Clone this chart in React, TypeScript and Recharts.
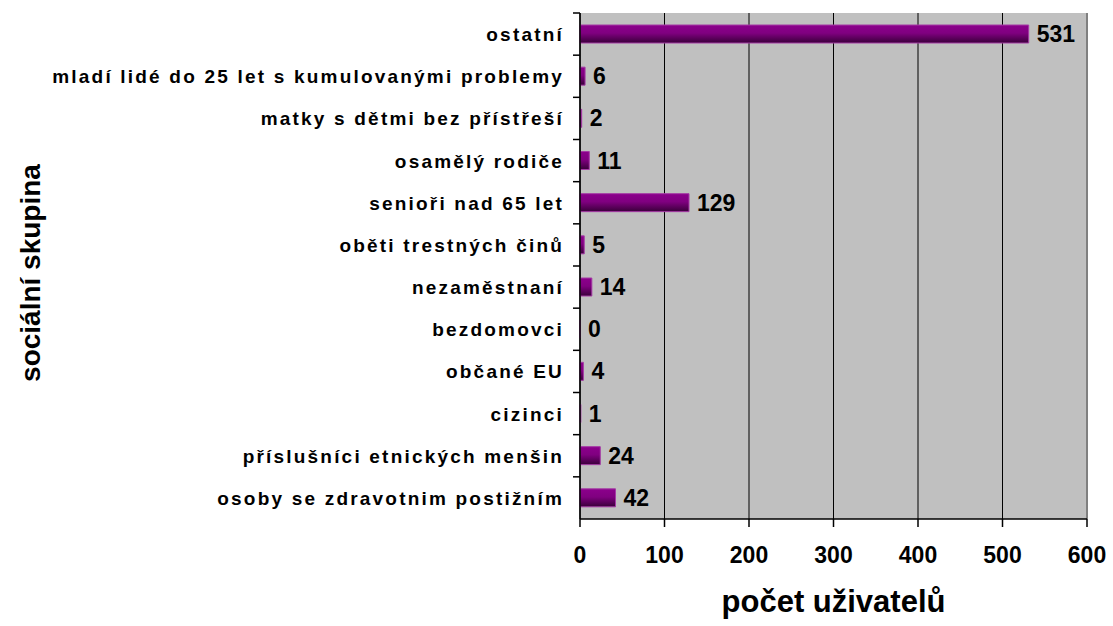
import React from "react";
import { BarChart, Bar, XAxis, YAxis, CartesianGrid, LabelList, ReferenceLine } from "recharts";

const categories = [
    "ostatní",
    "mladí lidé do 25 let s kumulovanými problemy",
    "matky s dětmi bez přístřeší",
    "osamělý rodiče",
    "senioři nad 65 let",
    "oběti trestných činů",
    "nezaměstnaní",
    "bezdomovci",
    "občané EU",
    "cizinci",
    "příslušníci etnických menšin",
    "osoby se zdravotnim postižním",
];
const users = [531, 6, 2, 11, 129, 5, 14, 0, 4, 1, 24, 42];
const xTicks = [0, 100, 200, 300, 400, 500, 600];

const data = categories.map((name, i) => ({ name, value: users[i] }));

const FONT = "'Liberation Sans', Arial, sans-serif";
const W = 1113;
const H = 626;
const MARGIN = { top: 13, right: 26, left: 0, bottom: 0 };
const AXIS_X = 580; // YAxis width = left edge of plot
const XAXIS_H = 107;
const PLOT_H = H - MARGIN.top - XAXIS_H;
const HALF_BAND = PLOT_H / categories.length / 2;

function CategoryTick(props: any) {
    const { x, y, payload } = props;
    return (
        <text
            x={x - 7}
            y={y + 7}
            textAnchor="end"
            fontFamily={FONT}
            fontWeight="bold"
            fontSize={19}
            letterSpacing={2.2}
            fill="#000"
        >
            {payload.value}
        </text>
    );
}

function YTitle() {
    return (
        <text
            x={40}
            y={273}
            transform="rotate(-90 40 273)"
            textAnchor="middle"
            fontFamily={FONT}
            fontWeight="bold"
            fontSize={28}
            fill="#000"
        >
            sociální skupina
        </text>
    );
}

export default function App() {
    return (
        <div style={{ position: "absolute", left: 0, top: 0, background: "#fff" }}>
            <BarChart width={W} height={H} data={data} layout="vertical" margin={MARGIN}>
                <defs>
                    <linearGradient id="barGrad" x1="0" y1="0" x2="0" y2="1">
                        <stop offset="0%" stopColor="#8c008c" />
                        <stop offset="45%" stopColor="#800080" />
                        <stop offset="100%" stopColor="#3a003a" />
                    </linearGradient>
                </defs>
                <CartesianGrid horizontal={false} stroke="#000" fill="#C0C0C0" />
                <ReferenceLine x={600} stroke="#808080" strokeWidth={2} />
                <XAxis
                    type="number"
                    domain={[0, 600]}
                    ticks={xTicks}
                    interval={0}
                    height={XAXIS_H}
                    tickSize={8}
                    tickMargin={20}
                    axisLine={{ stroke: "#000", strokeWidth: 1.5 }}
                    tickLine={{ stroke: "#000", strokeWidth: 1.5 }}
                    tick={{ fill: "#000", fontFamily: FONT, fontWeight: "bold", fontSize: 23 }}
                    label={{
                        value: "počet uživatelů",
                        position: "insideBottom",
                        offset: 14,
                        fill: "#000",
                        fontFamily: FONT,
                        fontWeight: "bold",
                        fontSize: 31,
                    }}
                />
                <YAxis
                    type="category"
                    dataKey="name"
                    width={AXIS_X}
                    interval={0}
                    tickSize={7}
                    tickMargin={2}
                    tickLine={{ stroke: "#000", strokeWidth: 1.5, transform: `translate(0 ${-HALF_BAND})` }}
                    axisLine={{ stroke: "#000", strokeWidth: 1.5 }}
                    tick={<CategoryTick />}
                    label={{ content: () => <YTitle /> }}
                />
                {/* closing tick at the bottom edge of the category axis */}
                <YAxis
                    yAxisId="edge"
                    type="category"
                    dataKey="name"
                    orientation="left"
                    width={0}
                    interval={0}
                    axisLine={false}
                    tick={false}
                    tickSize={7}
                    tickLine={{ stroke: "#000", strokeWidth: 1.5, transform: `translate(0 ${HALF_BAND})` }}
                    ticks={[categories[categories.length - 1]]}
                />
                <Bar
                    dataKey="value"
                    barSize={18}
                    fill="url(#barGrad)"
                    stroke="#a53aa5"
                    strokeWidth={1}
                    minPointSize={(v: number) => (v === 0 ? 0.01 : 0)}
                    isAnimationActive={false}
                >
                    <LabelList
                        dataKey="value"
                        position="right"
                        offset={8}
                        fill="#000"
                        fontFamily={FONT}
                        fontWeight="bold"
                        fontSize={23}
                    />
                </Bar>
            </BarChart>
        </div>
    );
}
